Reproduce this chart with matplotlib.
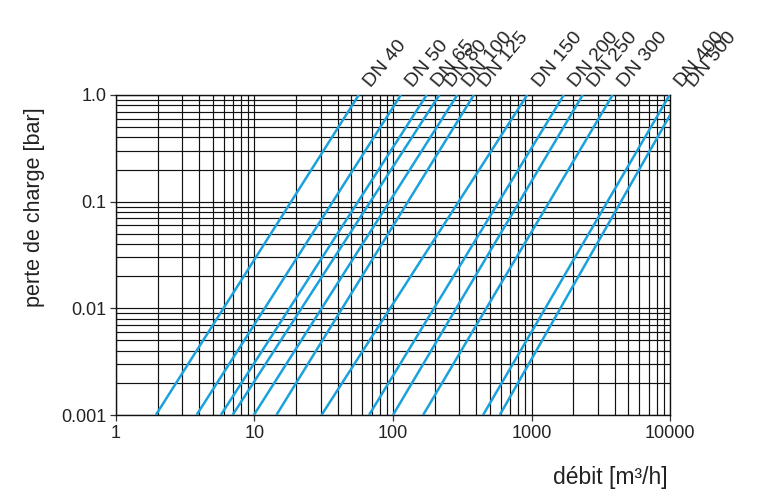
import numpy as np
import matplotlib
matplotlib.use('Agg')
import matplotlib.pyplot as plt
from matplotlib.ticker import LogLocator, NullFormatter

plt.rcParams['font.family'] = ['Liberation Sans', 'DejaVu Sans']

# Pressure-drop curves
dn_labels = ['DN 40', 'DN 50', 'DN 65', 'DN 80', 'DN 100', 'DN 125',
             'DN 150', 'DN 200', 'DN 250', 'DN 300', 'DN 400', 'DN 500']
q_low = [1.94, 3.82, 5.72, 6.95, 9.9, 14.4, 30.5, 67.2, 100, 165, 447, 590]   # m3/h at 0.001 bar
q_high = [56.6, 114, 175, 216, 291, 383, 931, 1710, 2340, 3850, 9930, 12100]  # m3/h at 1 bar
dp_low, dp_high = 0.001, 1.0

x_ticks = [1, 10, 100, 1000, 10000]
x_ticklabels = ['1', '10', '100', '1000', '10000']
y_ticks = [0.001, 0.01, 0.1, 1.0]
y_ticklabels = ['0.001', '0.01', '0.1', '1.0']

fig = plt.figure(figsize=(7.69, 4.96), dpi=100)
ax = fig.add_axes([0.1508, 0.1633, 0.7205, 0.6452])

ax.set_xscale('log')
ax.set_yscale('log')
ax.set_xlim(1, 10000)
ax.set_ylim(0.001, 1.0)

ax.xaxis.set_minor_locator(LogLocator(base=10, subs=np.arange(2, 10)))
ax.yaxis.set_minor_locator(LogLocator(base=10, subs=np.arange(2, 10)))
ax.xaxis.set_minor_formatter(NullFormatter())
ax.yaxis.set_minor_formatter(NullFormatter())
ax.set_xticks(x_ticks, x_ticklabels)
ax.set_yticks(y_ticks, y_ticklabels)
ax.tick_params(which='major', length=4, width=0.9, color='#333333',
               labelsize=13, labelcolor='#222222', pad=3)
ax.tick_params(which='minor', length=0)

ax.grid(True, which='both', color='#111111', linewidth=0.85)
ax.set_axisbelow(True)
for s in ax.spines.values():
    s.set_color('#111111')
    s.set_linewidth(1.0)

for lab, lo, hi in zip(dn_labels, q_low, q_high):
    ax.plot([lo, hi], [dp_low, dp_high], color='#1ba1dc', linewidth=1.8,
            solid_capstyle='butt', zorder=3)
    ax.annotate(lab, xy=(hi, dp_high), xycoords='data',
                xytext=(9, 5), textcoords='offset points',
                rotation=50, rotation_mode='anchor', ha='left', va='baseline',
                fontsize=14, color='#222222', annotation_clip=False)

ax.set_ylabel('perte de charge [bar]', fontsize=15.5, color='#222222')
ax.yaxis.set_label_coords(-0.128, 0.65)
ax.set_xlabel('débit [m³/h]', fontsize=16.5, color='#222222', ha='right')
ax.xaxis.set_label_coords(0.9965, -0.16)

fig.savefig('out.png', dpi=100)
